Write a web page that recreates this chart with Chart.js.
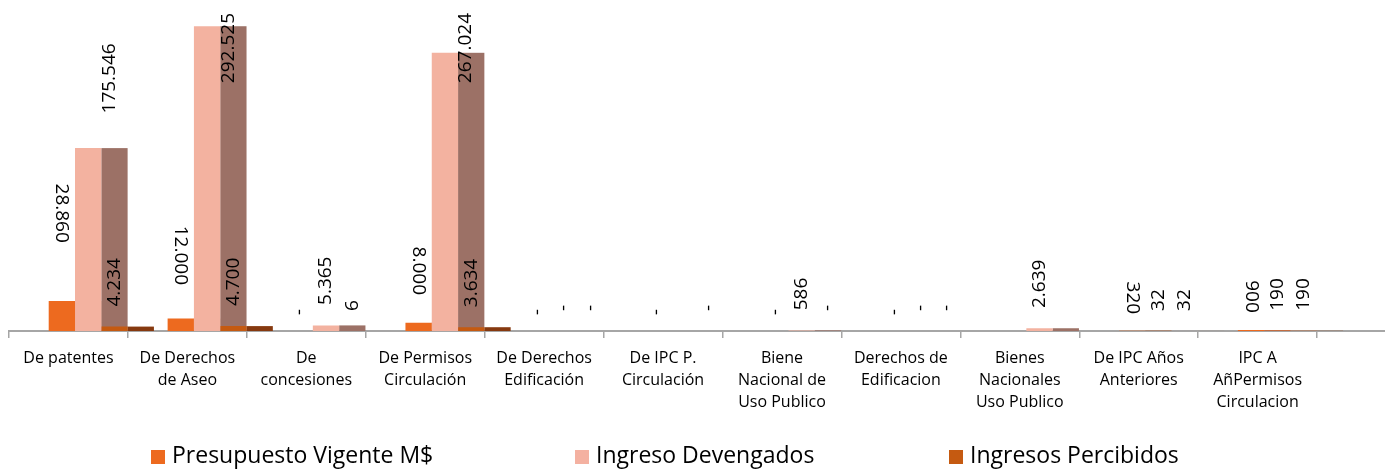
<!DOCTYPE html>
<html><head><meta charset="utf-8">
<script src="https://cdn.jsdelivr.net/npm/chart.js@4/dist/chart.umd.min.js"></script>
<style>
html,body{margin:0;padding:0;background:#fff;overflow:hidden;width:1385px;height:470px}
#wrap{position:absolute;left:0;top:0;width:1436px;height:470px}
.box{position:absolute;top:450px;width:14px;height:14px}
.txt{position:absolute;top:440px;font-family:'Open Sans';font-size:23px;line-height:28px;color:#000;white-space:nowrap}
</style></head>
<body>
<div id="wrap"><canvas id="c" width="1436" height="470"></canvas></div>
<div id="legend"></div>
<script>
// ---- data ----
const categories = [
  'De patentes',
  ['De Derechos', 'de Aseo'],
  ['De', 'concesiones'],
  ['De Permisos', 'Circulación'],
  ['De Derechos', 'Edificación'],
  ['De IPC P.', 'Circulación'],
  ['Biene', 'Nacional de', 'Uso Publico'],
  ['Derechos de', 'Edificacion'],
  ['Bienes', 'Nacionales', 'Uso Publico'],
  ['De IPC Años', 'Anteriores'],
  ['IPC A', 'AñPermisos', 'Circulacion'],
  ''
];
const presupuesto = [28860, 12000, 0, 8000, 0, 0, 0, 0, null, 320, 900, null];
const devengados  = [175546, 292525, 5365, 267024, 0, null, 586, 0, 2639, 32, 190, null];
const percibidos  = [4234, 4700, 6, 3634, 0, 0, 0, 0, null, 32, 190, null];
const seriesNames = ['Presupuesto Vigente M$', 'Ingreso Devengados', 'Ingresos Percibidos'];

// ---- styles ----
const frontColors = ['#ED6A1F', '#F3B2A0', '#C55A11'];
const sideColors  = ['#B4501A', '#9C7166', '#86390F'];
const legendColors = ['#ED6A1F', '#F4B1A1', '#C55A11'];
const legendLeft = [151, 575, 949];
const SHIFT = 19.7;

function fmt(v){
  if (v === 0) return '-';
  return String(v).replace(/\B(?=(\d{3})+(?!\d))/g, '.');
}

const depthPlugin = {
  id: 'depth',
  beforeDatasetsDraw(chart){
    const ctx = chart.ctx;
    ctx.save();
    ctx.translate(SHIFT, 0);
    chart.data.datasets.forEach((ds, i) => {
      const meta = chart.getDatasetMeta(i);
      meta.data.forEach((el, j) => {
        if (ds.data[j] == null) return;
        const p = el.getProps(['x','y','base','width'], true);
        ctx.fillStyle = sideColors[i];
        ctx.fillRect(p.x + p.width/2, p.y, p.width, p.base - p.y);
      });
    });
  },
  afterDatasetsDraw(chart){
    const ctx = chart.ctx;
    ctx.font = '19px "Open Sans"';
    ctx.fillStyle = '#000';
    ctx.textBaseline = 'middle';
    chart.data.datasets.forEach((ds, i) => {
      const meta = chart.getDatasetMeta(i);
      meta.data.forEach((el, j) => {
        const v = ds.data[j];
        if (v == null) return;
        const p = el.getProps(['x','y','base','width'], true);
        const h = p.base - p.y;
        const t = fmt(v);
        const tw = ctx.measureText(t).width;
        ctx.save();
        if (i === 0) {
          const bottom = p.y - (16 + 1.4*h);
          ctx.translate(p.x, bottom);
          ctx.rotate(Math.PI/2);
          ctx.textAlign = 'right';
          ctx.fillText(t, 0, 0);
        } else {
          let bottom = p.y - (i === 1 ? 20 + 0.08*h : 20);
          if (bottom - tw < 13) bottom = 13 + tw;
          const lx = (i === 1 && h > 100) ? p.x + p.width/2 + 8 : p.x;
          ctx.translate(lx, bottom);
          ctx.rotate(-Math.PI/2);
          ctx.textAlign = 'left';
          ctx.fillText(t, 0, 0);
        }
        ctx.restore();
      });
    });
    ctx.restore();
  }
};

const seriesData = [presupuesto, devengados, percibidos];
new Chart(document.getElementById('c'), {
  type: 'bar',
  data: {
    labels: categories,
    datasets: seriesNames.map((n, i) => ({
      label: n, data: seriesData[i], backgroundColor: frontColors[i], borderWidth: 0
    }))
  },
  options: {
    responsive: false, animation: false, devicePixelRatio: 1,
    layout: { padding: { left: 9, right: 0, top: 0, bottom: 48 } },
    plugins: { legend: { display: false }, tooltip: { enabled: false } },
    datasets: { bar: { categoryPercentage: 0.6636, barPercentage: 1 } },
    scales: {
      x: {
        grid: { display: true, drawOnChartArea: false, drawTicks: true, tickLength: 7, color: '#A6A6A6', lineWidth: 1.5, offset: true },
        border: { display: true, color: '#A6A6A6', width: 2 },
        ticks: { autoSkip: false, maxRotation: 0, minRotation: 0, padding: 9, color: '#000',
                 font: { family: 'Open Sans', size: 16, lineHeight: 1.375 } }
      },
      y: { display: false, min: 0, max: 317700 }
    }
  },
  plugins: [depthPlugin]
});

// HTML legend
const lg = document.getElementById('legend');
seriesNames.forEach((n, i) => {
  const b = document.createElement('div');
  b.className = 'box'; b.style.left = legendLeft[i] + 'px'; b.style.background = legendColors[i];
  const s = document.createElement('div');
  s.className = 'txt'; s.style.left = (legendLeft[i] + 21) + 'px'; s.textContent = n;
  lg.appendChild(b); lg.appendChild(s);
});
</script>
</body></html>
